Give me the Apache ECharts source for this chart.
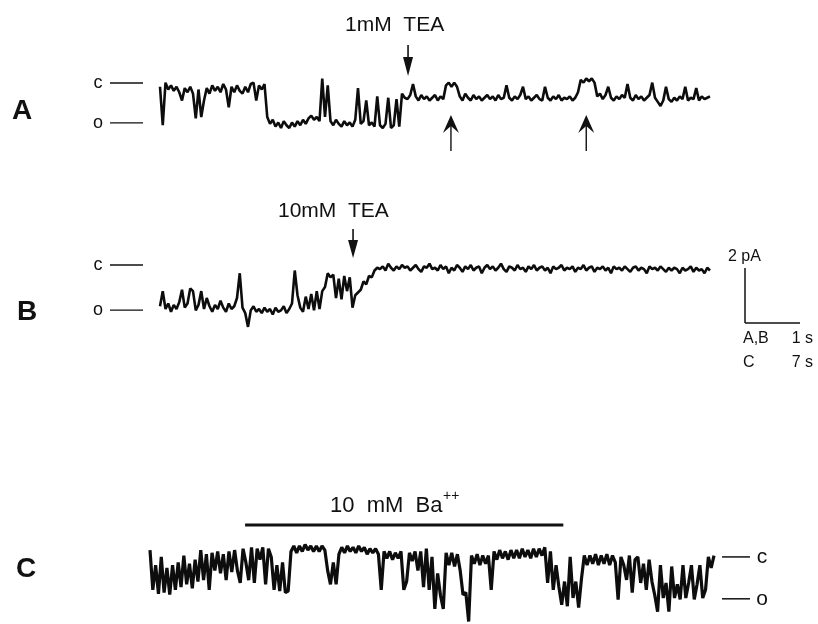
<!DOCTYPE html>
<html><head><meta charset="utf-8">
<script src="https://cdn.jsdelivr.net/npm/echarts@6/dist/echarts.min.js"></script>
<style>html,body{margin:0;padding:0;background:#fff}#c{width:818px;height:624px}</style>
</head><body><div id="c"></div>
<script>
// ---- data (current in pA relative to closed level; time in s) ----
const stepAB = 0.05;   // sampling step of traces A and B (s)
const stepC = 0.35;    // sampling step of trace C (s)
const traceA = [
-0.1,-1.5,0.05,-0.2,-0.05,-0.25,-0.1,-0.3,-0.6,-0.15,
-0.3,-0.1,-0.35,-1.25,-0.2,-1.2,-0.6,-0.15,-0.35,-0.05,
-0.25,-0.1,-0.3,0.0,-0.2,-0.85,-0.1,-0.3,-0.05,-0.25,
-0.35,-0.1,-0.3,0.0,0.05,-0.6,-0.05,-0.2,0.0,-1.2,
-1.45,-1.3,-1.55,-1.4,-1.6,-1.35,-1.5,-1.6,-1.4,-1.55,
-1.35,-1.5,-1.3,-1.45,-1.25,-1.15,-1.3,-1.2,-1.35,0.2,
-1.2,-0.05,-1.35,-1.5,-1.3,-1.45,-1.55,-1.35,-1.5,-1.4,
-1.55,-1.3,-0.15,-1.45,-1.35,-0.6,-1.5,-1.4,-1.55,-0.45,
-1.5,-1.6,-1.45,-0.5,-1.6,-1.5,-0.55,-1.55,-0.35,-0.5,
-0.55,-0.4,0.0,-0.45,-0.6,-0.4,-0.55,-0.45,-0.6,-0.5,
-0.4,-0.6,-0.45,-0.55,-0.05,0.05,-0.1,0.05,-0.1,-0.45,
-0.6,-0.35,-0.5,-0.6,-0.4,-0.55,-0.45,-0.6,-0.5,-0.4,
-0.55,-0.45,-0.6,-0.4,-0.55,-0.5,-0.05,-0.5,-0.6,-0.45,
-0.55,-0.4,-0.1,-0.55,-0.45,-0.6,-0.5,-0.4,-0.55,-0.6,
-0.1,-0.5,-0.6,-0.45,-0.55,-0.4,-0.6,-0.5,-0.55,-0.45,
-0.6,-0.5,-0.3,0.15,0.05,0.2,0.1,0.2,0.05,-0.45,
-0.35,-0.55,-0.4,-0.1,-0.5,-0.6,-0.45,-0.55,-0.4,-0.5,
0.0,-0.5,-0.6,-0.4,-0.55,-0.45,-0.6,-0.5,-0.4,0.05,
-0.5,-0.65,-0.8,-0.6,-0.1,-0.55,-0.65,-0.5,-0.6,-0.45,
-0.55,-0.1,-0.6,-0.5,-0.55,-0.15,-0.6,-0.45,-0.55,-0.5,-0.45];
const traceB = [
-1.5,-0.95,-1.6,-1.4,-1.7,-1.45,-1.6,-1.35,-0.9,-1.55,
-1.4,-0.85,-0.95,-1.65,-1.45,-0.95,-1.6,-1.2,-1.5,-1.7,
-1.45,-1.6,-1.3,-1.55,-1.7,-1.4,-1.6,-1.5,-1.2,-0.3,
-1.55,-1.75,-2.25,-1.65,-1.5,-1.7,-1.6,-1.75,-1.55,-1.7,
-1.6,-1.8,-1.55,-1.7,-1.65,-1.5,-1.75,-1.6,-1.4,-0.2,
-1.1,-1.55,-1.7,-1.15,-1.6,-1.05,-1.65,-0.95,-1.6,-0.95,
-0.8,-0.3,-0.45,-0.35,-1.2,-0.5,-1.25,-0.4,-0.95,-0.45,
-1.55,-1.1,-1.0,-0.9,-0.6,-0.7,-0.4,-0.45,-0.2,-0.1,
-0.15,-0.05,-0.2,0.05,-0.1,-0.2,-0.05,-0.15,0.0,-0.1,
-0.05,-0.2,-0.1,0.0,-0.15,-0.25,-0.05,-0.1,0.05,-0.15,
-0.1,-0.2,0.0,-0.15,-0.05,-0.3,-0.1,-0.2,0.0,-0.1,
-0.25,-0.05,-0.15,0.0,-0.2,-0.1,-0.05,-0.3,-0.1,0.0,
-0.15,-0.05,-0.2,-0.1,0.05,-0.15,-0.25,-0.05,-0.1,-0.2,
0.0,-0.15,-0.1,-0.25,-0.05,-0.15,0.0,-0.2,-0.1,-0.05,
-0.2,-0.1,-0.3,-0.05,-0.15,-0.1,0.0,-0.2,-0.1,-0.15,
-0.05,-0.25,-0.1,-0.15,0.0,-0.2,-0.1,-0.05,-0.25,-0.1,
-0.15,-0.05,-0.2,-0.1,-0.3,-0.05,-0.15,-0.1,-0.2,-0.05,
-0.15,-0.25,-0.1,-0.05,-0.2,-0.1,-0.15,-0.3,-0.05,-0.15,
-0.1,-0.2,-0.05,-0.15,-0.25,-0.1,-0.2,-0.1,-0.15,-0.3,
-0.1,-0.2,-0.15,-0.05,-0.25,-0.1,-0.2,-0.15,-0.3,-0.1,-0.2];
const traceC = [
0.25,-1.2,-0.3,-1.35,0.0,-1.3,-0.4,-1.38,-0.3,-1.2,
-0.2,-1.1,0.05,-1.0,-0.25,-1.15,-0.1,-0.9,0.25,-0.85,
0.1,-1.2,0.15,-0.5,0.2,-0.6,0.1,-0.85,0.2,-0.55,
0.25,-0.5,-0.95,0.3,-0.2,-0.85,0.35,-0.95,0.3,-0.1,
0.35,-1.0,0.3,0.0,-1.2,-0.3,-1.25,-0.2,-1.3,-1.25,
0.2,0.4,0.15,0.4,0.2,0.45,0.25,0.4,0.2,0.4,
0.2,0.4,0.25,-0.5,-1.0,-0.2,-1.0,0.1,0.35,0.15,
0.4,0.2,0.35,0.15,0.4,0.2,0.35,0.1,0.3,0.15,
0.3,0.1,-1.2,0.2,-0.05,0.2,-0.1,0.15,-0.05,0.2,
-1.2,-0.9,0.15,-0.15,0.2,-0.5,0.2,-1.1,0.3,-1.2,
0.0,-1.9,-0.6,-1.4,-1.9,0.15,-0.3,0.15,-0.35,0.1,
-0.5,-1.38,-1.3,-2.36,0.05,-0.25,0.1,-0.3,0.05,-0.25,
0.05,-1.2,0.2,-0.1,0.25,-0.05,0.2,-0.1,0.25,-0.05,
0.25,-0.05,0.3,0.0,0.25,-0.05,0.3,0.0,0.3,0.05,
0.35,-0.95,0.2,-1.2,-0.3,-1.1,-1.75,-0.9,-1.8,0.0,
-1.5,-0.9,-1.85,-0.8,0.05,-0.3,0.05,-0.25,0.1,-0.3,
0.05,-0.25,0.1,-0.3,0.05,-0.2,-1.56,0.0,-0.3,-0.84,
0.05,-1.3,-0.1,0.0,-0.95,-0.25,-1.2,-0.1,-0.9,-1.4,
-2.0,-0.3,-1.5,-0.95,-2.0,-0.35,-1.5,-1.0,-1.55,-0.3,
-1.5,-0.95,-0.3,-1.55,-1.0,-0.3,-1.5,-1.2,0.0,-0.4,0.05];
// closed / open level markers (pA)
const levelLabels = ['c', 'o'];
const levelsA = [0, -1.45];
const levelsB = [0, -1.64];
const levelsC = [0, -1.53];
// event times (s)
const teaTimeA = 4.51;
const upArrowTimesA = [5.29, 7.75];
const teaTimeB = 3.51;
const baRangeC = [11.8, 51.3];
// scale bar
const scaleCurrent = 2;   // pA
const scaleTimeAB = 1;    // s
const scaleTimeC = 7;     // s

// ---- layout ----
const PX_PA = 27.5;
const FONT = '"Liberation Sans", Arial, sans-serif';
function gridFor(left, zeroY, width, yMin, yMax) {
  return { left: left, top: zeroY - yMax * PX_PA, width: width, height: (yMax - yMin) * PX_PA };
}
const ranges = [[-2.5, 1], [-2.5, 1], [-2.45, 0.6]];
const grids = [gridFor(160, 84, 550, -2.5, 1), gridFor(160, 265, 550, -2.5, 1), gridFor(150, 557, 564, -2.45, 0.6)];
const xMax = [traceA.length - 1, traceB.length - 1, traceC.length - 1];
const steps = [stepAB, stepAB, stepC];
const traces = [traceA, traceB, traceC];

const chart = echarts.init(document.getElementById('c'), null, { renderer: 'canvas' });
chart.setOption({
  animation: false,
  backgroundColor: '#fff',
  grid: grids,
  xAxis: grids.map((g, i) => ({ type: 'value', gridIndex: i, min: 0, max: +(xMax[i] * steps[i]).toFixed(3), show: false })),
  yAxis: grids.map((g, i) => ({ type: 'value', gridIndex: i, min: ranges[i][0], max: ranges[i][1], show: false })),
  series: traces.map((tr, i) => ({
    type: 'line', xAxisIndex: i, yAxisIndex: i, silent: true,
    showSymbol: false, symbol: 'none',
    lineStyle: { color: '#0d0d0d', width: i === 2 ? 3.2 : 2.6, join: 'bevel' },
    data: tr.map((v, k) => [+(k * steps[i]).toFixed(3), v])
  }))
});

const P = (g, x, y) => chart.convertToPixel({ gridIndex: g }, [x, y]);
const G = [];
function txt(text, x, y, size, opts) {
  opts = opts || {};
  const align = opts.align || 'left';
  G.push({ type: 'text', x: x, y: y, silent: true, style: {
    text: text, fill: '#111', font: (opts.bold ? 'bold ' : '') + size + 'px ' + FONT,
    align: align, verticalAlign: 'middle', textAlign: align, textVerticalAlign: 'middle' } });
}
function line(x1, y1, x2, y2, w) {
  G.push({ type: 'line', silent: true, shape: { x1: x1, y1: y1, x2: x2, y2: y2 }, style: { stroke: '#111', lineWidth: w || 1.5 } });
}
function poly(pts) {
  G.push({ type: 'polygon', silent: true, shape: { points: pts }, style: { fill: '#111' } });
}

// panel letters
txt('A', 22, 111, 28, { align: 'center', bold: true });
txt('B', 27, 312, 28, { align: 'center', bold: true });
txt('C', 26, 569, 28, { align: 'center', bold: true });

// level markers
levelsA.forEach((lv, k) => { const y = P(0, 0, lv)[1] - 1; line(110, y, 143, y, 1.3); txt(levelLabels[k], 98, y, 18, { align: 'center' }); });
levelsB.forEach((lv, k) => { const y = P(1, 0, lv)[1]; line(110, y, 143, y, 1.3); txt(levelLabels[k], 98, y, 18, { align: 'center' }); });
levelsC.forEach((lv, k) => { const y = P(2, 0, lv)[1]; line(722, y, 750, y, 1.5); txt(levelLabels[k], 762, y, 21, { align: 'center' }); });

// A: TEA arrow and label
(function () {
  const x = P(0, teaTimeA, 0)[0];
  line(x, 45, x, 62, 1.6);
  poly([[x - 5, 57], [x + 5, 57], [x, 76]]);
  txt('1mM  TEA', 345, 25, 21);
  upArrowTimesA.forEach(t => {
    const ux = P(0, t, 0)[0];
    line(ux, 122, ux, 151, 1.4);
    poly([[ux, 115], [ux + 8, 133], [ux, 126], [ux - 8, 133]]);
  });
})();

// B: TEA arrow and label
(function () {
  const x = P(1, teaTimeB, 0)[0];
  line(x, 229, x, 244, 1.6);
  poly([[x - 5, 240], [x + 5, 240], [x, 258]]);
  txt('10mM  TEA', 278, 211, 21);
})();

// C: Ba bar and label
(function () {
  const x1 = P(2, baRangeC[0], 0)[0], x2 = P(2, baRangeC[1], 0)[0];
  line(x1, 525, x2, 525, 3);
  txt('10  mM  Ba', 330, 506, 22);
  txt('++', 443, 496, 14);
})();

// scale bar
(function () {
  const bx = 745, by = 323;
  line(bx, by - scaleCurrent * PX_PA, bx, by, 1.5);
  line(bx, by, bx + 55 * scaleTimeAB, by, 1.5);
  txt(scaleCurrent + ' pA', 728, 257, 16);
  txt('A,B', 743, 339, 16);
  txt(scaleTimeAB + ' s', 813, 339, 16, { align: 'right' });
  txt('C', 743, 363, 16);
  txt(scaleTimeC + ' s', 813, 363, 16, { align: 'right' });
})();

chart.setOption({ graphic: G });
</script>
</body></html>
